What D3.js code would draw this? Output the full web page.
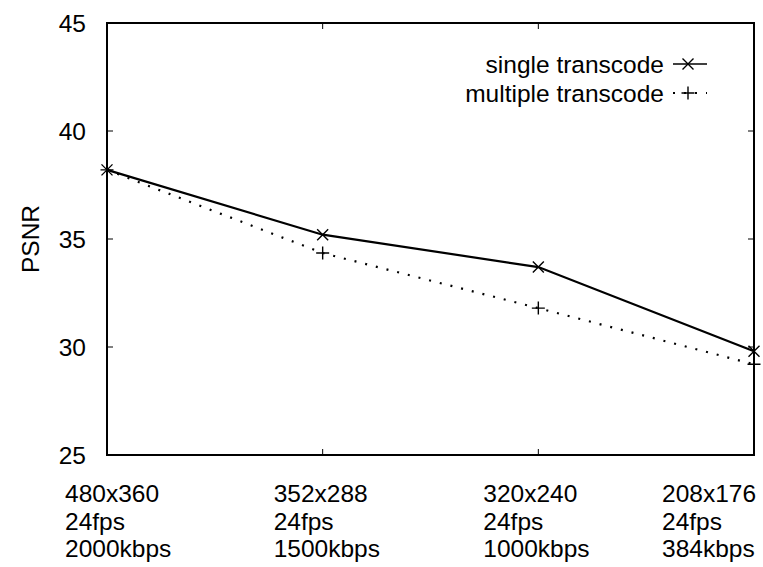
<!DOCTYPE html>
<html>
<head>
<meta charset="utf-8">
<script src="https://cdn.jsdelivr.net/npm/d3@7"></script>
<style>
  html, body { margin: 0; padding: 0; background: #fff; }
  svg { display: block; }
  text { font-family: "Liberation Sans", Arial, Helvetica, sans-serif; fill: #000; }
</style>
</head>
<body>
<svg id="chart" width="763" height="567"></svg>
<script>
// Transcoding configurations along the x axis (one label block per point)
const configs = [
  ["480x360", "24fps", "2000kbps"],
  ["352x288", "24fps", "1500kbps"],
  ["320x240", "24fps", "1000kbps"],
  ["208x176", "24fps", "384kbps"]
];
// PSNR after one transcode step vs. a chain of transcodes
const singleTranscode   = [38.2, 35.2, 33.7, 29.8];
const multipleTranscode = [38.2, 34.35, 31.8, 29.2];
const yTicks = [25, 30, 35, 40, 45];
const seriesNames = ["single transcode", "multiple transcode"];

const svg = d3.select("#chart");
const plot = { left: 107, right: 754, top: 23, bottom: 455 };
const fontSize = 24.5;

const x = d3.scalePoint()
  .domain(d3.range(configs.length))
  .range([plot.left, plot.right]);
const y = d3.scaleLinear().domain([25, 45]).range([plot.bottom, plot.top]);

// Tick marks drawn inward on all four sides
const g = svg.append("g");
yTicks.forEach(t => {
  g.append("line").attr("x1", plot.left).attr("x2", plot.left + 6)
    .attr("y1", y(t)).attr("y2", y(t)).attr("stroke", "#000").attr("stroke-width", 1);
  g.append("line").attr("x1", plot.right).attr("x2", plot.right - 6)
    .attr("y1", y(t)).attr("y2", y(t)).attr("stroke", "#000").attr("stroke-width", 1);
});
x.domain().forEach(i => {
  g.append("line").attr("x1", x(i)).attr("x2", x(i))
    .attr("y1", plot.bottom).attr("y2", plot.bottom - 6).attr("stroke", "#000").attr("stroke-width", 1);
  g.append("line").attr("x1", x(i)).attr("x2", x(i))
    .attr("y1", plot.top).attr("y2", plot.top + 6).attr("stroke", "#000").attr("stroke-width", 1);
});

// Y tick labels
g.selectAll("text.ytick").data(yTicks).join("text")
  .attr("class", "ytick")
  .attr("x", plot.left - 21)
  .attr("y", d => y(d))
  .attr("dy", "0.36em")
  .attr("text-anchor", "end")
  .style("font-size", fontSize + "px")
  .text(d => d);

// X label blocks: three left-aligned lines under each point
const labelShift = [-42, -49, -55, -92];
const labelBaseline = 502, lineGap = 27.7;
configs.forEach((lines, i) => {
  const t = g.append("text").style("font-size", fontSize + "px");
  lines.forEach((s, k) => {
    t.append("tspan").attr("x", x(i) + labelShift[i])
      .attr("y", labelBaseline + k * lineGap).text(s);
  });
});

// Y axis title
svg.append("text")
  .attr("transform", `translate(39, ${(plot.top + plot.bottom) / 2}) rotate(-90)`)
  .attr("text-anchor", "middle")
  .style("font-size", fontSize + "px")
  .text("PSNR");

// Series lines
const line = d3.line().x((d, i) => x(i)).y(d => y(d));
svg.append("path").datum(multipleTranscode)
  .attr("d", line).attr("fill", "none").attr("stroke", "#000")
  .attr("stroke-width", 2.2).attr("stroke-dasharray", "2,9");
svg.append("path").datum(singleTranscode)
  .attr("d", line).attr("fill", "none").attr("stroke", "#000")
  .attr("stroke-width", 2.2);

// Point markers
function cross(sel, cx, cy, r) {
  sel.append("path")
    .attr("d", `M${cx - r},${cy - r}L${cx + r},${cy + r}M${cx - r},${cy + r}L${cx + r},${cy - r}`)
    .attr("stroke", "#000").attr("stroke-width", 1.4).attr("fill", "none");
}
function plus(sel, cx, cy, r) {
  sel.append("path")
    .attr("d", `M${cx - r},${cy}L${cx + r},${cy}M${cx},${cy - r}L${cx},${cy + r}`)
    .attr("stroke", "#000").attr("stroke-width", 1.4).attr("fill", "none");
}
const marks = svg.append("g");
singleTranscode.forEach((v, i) => cross(marks, x(i), y(v), 5.5));
multipleTranscode.forEach((v, i) => plus(marks, x(i), y(v), 6.5));

// Frame
svg.append("rect")
  .attr("x", plot.left).attr("y", plot.top)
  .attr("width", plot.right - plot.left).attr("height", plot.bottom - plot.top)
  .attr("fill", "none").attr("stroke", "#000").attr("stroke-width", 2);

// Legend
const legend = svg.append("g");
const legendTextRight = 664, sampleX0 = 673, sampleX1 = 707, markX = 688;
const rowY = [64, 93];
legend.append("text").attr("x", legendTextRight).attr("y", rowY[0]).attr("dy", "0.36em")
  .attr("text-anchor", "end").style("font-size", fontSize + "px").text(seriesNames[0]);
legend.append("line").attr("x1", sampleX0).attr("x2", sampleX1)
  .attr("y1", rowY[0]).attr("y2", rowY[0]).attr("stroke", "#000").attr("stroke-width", 1.4);
cross(legend, markX, rowY[0], 5.5);
legend.append("text").attr("x", legendTextRight).attr("y", rowY[1]).attr("dy", "0.36em")
  .attr("text-anchor", "end").style("font-size", fontSize + "px").text(seriesNames[1]);
legend.append("line").attr("x1", sampleX0).attr("x2", sampleX1)
  .attr("y1", rowY[1]).attr("y2", rowY[1]).attr("stroke", "#000").attr("stroke-width", 2)
  .attr("stroke-dasharray", "2,9");
plus(legend, markX, rowY[1], 6.5);
</script>
</body>
</html>
